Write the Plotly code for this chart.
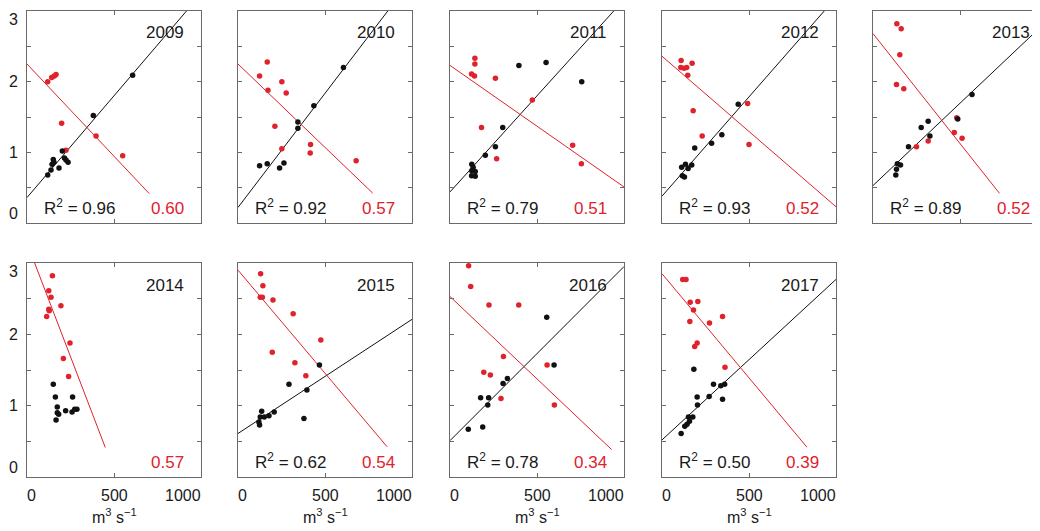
import plotly.graph_objects as go

YEARS = [2009, 2010, 2011, 2012, 2013, 2014, 2015, 2016, 2017]

# black series (x in m3 s-1, y value)
bx_2009 = [119, 138, 144, 151, 155, 184, 203, 215, 224, 236, 381, 607]
by_2009 = [0.68, 0.75, 0.83, 0.90, 0.86, 0.78, 1.02, 0.92, 0.89, 0.86, 1.52, 2.09]
rx_2009 = [119, 142, 157, 167, 199, 224, 397, 550]
ry_2009 = [2.00, 2.06, 2.08, 2.10, 1.41, 1.03, 1.23, 0.95]

bx_2010 = [124, 168, 239, 264, 344, 344, 436, 606]
by_2010 = [0.81, 0.84, 0.78, 0.85, 1.43, 1.34, 1.66, 2.20]
rx_2010 = [168, 124, 252, 172, 277, 212, 252, 417, 415, 679]
ry_2010 = [2.28, 2.08, 2.00, 1.88, 1.84, 1.37, 1.05, 1.11, 0.99, 0.88]

bx_2011 = [125, 133, 125, 145, 124, 145, 203, 261, 303, 396, 552, 757]
by_2011 = [0.83, 0.79, 0.74, 0.73, 0.67, 0.66, 0.96, 1.08, 1.35, 2.23, 2.27, 2.00]
rx_2011 = [143, 143, 124, 141, 261, 181, 268, 473, 705, 755]
ry_2011 = [2.33, 2.25, 2.11, 2.08, 2.05, 1.35, 0.91, 1.74, 1.10, 0.84]

bx_2012 = [113, 135, 150, 171, 117, 129, 188, 285, 344, 438]
by_2012 = [0.79, 0.83, 0.77, 0.82, 0.67, 0.65, 1.06, 1.13, 1.25, 1.68]
rx_2012 = [110, 108, 127, 142, 173, 148, 179, 231, 492, 500]
ry_2012 = [2.30, 2.20, 2.19, 2.20, 2.26, 2.09, 1.59, 1.23, 1.69, 1.11]

bx_2013 = [131, 135, 140, 158, 204, 277, 317, 327, 487, 569]
by_2013 = [0.68, 0.76, 0.84, 0.82, 1.08, 1.35, 1.44, 1.23, 1.47, 1.82]
rx_2013 = [137, 162, 154, 135, 177, 250, 317, 467, 481, 512]
ry_2013 = [2.82, 2.75, 2.38, 1.96, 1.90, 1.08, 1.16, 1.28, 1.49, 1.20]

bx_2014 = [151, 163, 174, 174, 182, 167, 222, 259, 262, 274, 287]
by_2014 = [1.30, 1.12, 0.98, 0.90, 0.88, 0.80, 0.93, 0.91, 1.12, 0.95, 0.95]
rx_2014 = [146, 125, 138, 125, 128, 113, 195, 247, 209, 239]
ry_2014 = [2.82, 2.61, 2.52, 2.35, 2.33, 2.25, 2.40, 1.88, 1.66, 1.41]

bx_2015 = [120, 124, 136, 128, 151, 178, 208, 293, 396, 379, 468]
by_2015 = [0.77, 0.73, 0.92, 0.84, 0.84, 0.86, 0.91, 1.30, 1.22, 0.82, 1.57]
rx_2015 = [130, 143, 128, 140, 201, 317, 476, 197, 327, 390]
ry_2015 = [2.85, 2.68, 2.52, 2.52, 2.48, 2.29, 1.92, 1.75, 1.60, 1.42]

bx_2016 = [105, 188, 176, 222, 217, 305, 330, 556, 598]
by_2016 = [0.67, 0.70, 1.11, 1.11, 1.01, 1.31, 1.38, 2.24, 1.57]
rx_2016 = [107, 119, 224, 395, 307, 194, 232, 293, 558, 600]
ry_2016 = [2.96, 2.67, 2.41, 2.41, 1.69, 1.47, 1.43, 1.10, 1.57, 1.01]

bx_2017 = [110, 131, 144, 158, 152, 177, 204, 202, 183, 271, 296, 338, 360, 348]
by_2017 = [0.61, 0.71, 0.74, 0.78, 0.84, 0.84, 1.01, 1.12, 1.51, 1.13, 1.30, 1.28, 1.30, 1.09]
rx_2017 = [119, 138, 162, 206, 181, 160, 273, 348, 188, 202, 362]
ry_2017 = [2.77, 2.77, 2.45, 2.46, 2.34, 2.18, 2.16, 2.25, 1.83, 1.88, 1.54]

BLACK_X = [bx_2009, bx_2010, bx_2011, bx_2012, bx_2013, bx_2014, bx_2015, bx_2016, bx_2017]
BLACK_Y = [by_2009, by_2010, by_2011, by_2012, by_2013, by_2014, by_2015, by_2016, by_2017]
RED_X = [rx_2009, rx_2010, rx_2011, rx_2012, rx_2013, rx_2014, rx_2015, rx_2016, rx_2017]
RED_Y = [ry_2009, ry_2010, ry_2011, ry_2012, ry_2013, ry_2014, ry_2015, ry_2016, ry_2017]

# fitted lines
BLACK_INTERCEPT = [0.36, 0.22, 0.44, 0.38, 0.53, None, 0.61, 0.51, 0.52]
BLACK_SLOPE = [0.00288, 0.00323, 0.00272, 0.00281, 0.00233, None, 0.00160, 0.00244, 0.00225]
RED_INTERCEPT = [2.25, 2.25, 2.23, 2.36, 2.68, 3.28, 2.90, 2.53, 2.85]
RED_SLOPE = [-0.00261, -0.00236, -0.00172, -0.00213, -0.00311, -0.00637, -0.00289, -0.00231, -0.00292]
RED_XEND = [703, 774, 1000, 1000, 727, 450, 857, 929, 833]

R2_BLACK = ["0.96", "0.92", "0.79", "0.93", "0.89", None, "0.62", "0.78", "0.50"]
R2_RED = ["0.60", "0.57", "0.51", "0.52", "0.52", "0.57", "0.54", "0.34", "0.39"]

X_TICKS = [0, 500, 1000]
Y_TICKS = [0, 0.5, 1, 1.5, 2, 2.5, 3]
Y_LABELS = [0, 1, 2, 3]
X_TITLE = "m<sup>3</sup> s<sup>\u22121</sup>"

# page body has an 8px margin: figure is sized to fill the rest of the window
OFF = 8
W, H = 1040 - OFF, 531 - OFF
COL_LEFT = [27 - OFF, 238 - OFF, 450 - OFF, 662 - OFF, 873 - OFF]
PANEL_W = 174
ROW_TOP = [11 - OFF, 263 - OFF]
ROW_H = [212, 214]

BLACK = "#111111"
RED = "#e0222c"
AXC = "#6a6a6a"
TXT = "#1a1a1a"
FONT = "Arial, Liberation Sans, sans-serif"
TICK_SIZE = 16
TEXT_SIZE = 17

fig = go.Figure()
annotations = []

for i, yr in enumerate(YEARS):
    n = i + 1
    sfx = "" if n == 1 else str(n)
    row, col = divmod(i, 5)
    left = COL_LEFT[col]
    right = left + PANEL_W
    xmax = 1000.0
    cut = right > W
    if cut:
        xmax = 1000.0 * (W - left) / PANEL_W
        right = W
    xfull = 1000.0 / xmax  # domain position of x = 1000
    top = ROW_TOP[row]
    bot = top + ROW_H[row]

    xa = dict(domain=[left / W, right / W], range=[0, xmax], anchor="y" + sfx,
              showline=True, linecolor=AXC, linewidth=1, mirror="ticks",
              ticks="inside", ticklen=4, tickcolor=AXC, tickvals=X_TICKS,
              showticklabels=False, showgrid=False, zeroline=False, fixedrange=True)
    ya = dict(domain=[1 - bot / H, 1 - top / H], range=[0, 3], anchor="x" + sfx,
              showline=True, linecolor=AXC, linewidth=1, mirror=(False if cut else "ticks"),
              ticks="inside", ticklen=4, tickcolor=AXC, tickvals=Y_TICKS,
              showticklabels=False, showgrid=False, zeroline=False, fixedrange=True)
    fig.update_layout(**{"xaxis" + sfx: xa, "yaxis" + sfx: ya})

    xr, yr_ = "x" + sfx, "y" + sfx

    # lines
    if BLACK_SLOPE[i] is not None:
        lx = [0, 1000]
        ly = [BLACK_INTERCEPT[i] + BLACK_SLOPE[i] * v for v in lx]
        fig.add_trace(go.Scatter(x=lx, y=ly, mode="lines", line=dict(color=BLACK, width=1),
                                 xaxis=xr, yaxis=yr_, showlegend=False, hoverinfo="skip"))
    lx = [0, RED_XEND[i]]
    ly = [RED_INTERCEPT[i] + RED_SLOPE[i] * v for v in lx]
    fig.add_trace(go.Scatter(x=lx, y=ly, mode="lines", line=dict(color=RED, width=1),
                             xaxis=xr, yaxis=yr_, showlegend=False, hoverinfo="skip"))
    # points
    fig.add_trace(go.Scatter(x=RED_X[i], y=RED_Y[i], mode="markers",
                             marker=dict(color=RED, size=5.5), xaxis=xr, yaxis=yr_,
                             showlegend=False, cliponaxis=True))
    fig.add_trace(go.Scatter(x=BLACK_X[i], y=BLACK_Y[i], mode="markers",
                             marker=dict(color=BLACK, size=5.5), xaxis=xr, yaxis=yr_,
                             showlegend=False, cliponaxis=True))

    xd, yd = xr + " domain", yr_ + " domain"
    # year label
    annotations.append(dict(text=str(yr), xref=xd, x=xfull, xanchor="right", xshift=-15,
                            yref=yd, y=1, yanchor="middle", yshift=-22, showarrow=False,
                            font=dict(family=FONT, size=TEXT_SIZE, color=TXT)))
    if R2_BLACK[i] is not None:
        annotations.append(dict(text="R<sup>2</sup> = " + R2_BLACK[i], xref=xd, x=0,
                                xanchor="left", xshift=15, yref=yd, y=0, yanchor="bottom",
                                yshift=3, showarrow=False,
                                font=dict(family=FONT, size=TEXT_SIZE, color=TXT)))
    annotations.append(dict(text=R2_RED[i], xref=xd, x=xfull, xanchor="right", xshift=-15,
                            yref=yd, y=0, yanchor="bottom", yshift=3, showarrow=False,
                            font=dict(family=FONT, size=TEXT_SIZE, color=RED)))

    # y tick labels on first column
    if col == 0:
        for v in Y_LABELS:
            anc = "bottom" if v == Y_LABELS[0] else ("top" if v == Y_LABELS[-1] else "middle")
            ysh = -1 if v == Y_LABELS[0] else (2 if v == Y_LABELS[-1] else 0)
            annotations.append(dict(text=str(v), xref=xd, x=0, xanchor="right", xshift=-7,
                                    yref=yr_, y=v, yanchor=anc, yshift=ysh, showarrow=False,
                                    font=dict(family=FONT, size=TICK_SIZE, color=TXT)))
    # x tick labels and title on bottom row
    if row == 1:
        for v in X_TICKS:
            anc = "left" if v == X_TICKS[0] else ("right" if v == X_TICKS[-1] else "center")
            xsh = -2 if v == X_TICKS[0] else (2 if v == X_TICKS[-1] else 0)
            annotations.append(dict(text=str(v), xref=xr, x=v, xanchor=anc, xshift=xsh,
                                    yref=yd, y=0, yanchor="top", yshift=-8, showarrow=False,
                                    font=dict(family=FONT, size=TICK_SIZE, color=TXT)))
        annotations.append(dict(text=X_TITLE, xref=xr, x=X_TICKS[1], xanchor="center",
                                yref=yd, y=0, yanchor="top", yshift=-27, showarrow=False,
                                font=dict(family=FONT, size=TICK_SIZE, color=TXT)))

fig.update_layout(width=W, height=H, margin=dict(l=0, r=0, t=0, b=0),
                  paper_bgcolor="white", plot_bgcolor="white",
                  annotations=annotations, showlegend=False,
                  font=dict(family=FONT, color=TXT))

fig.write_html("out.html")
